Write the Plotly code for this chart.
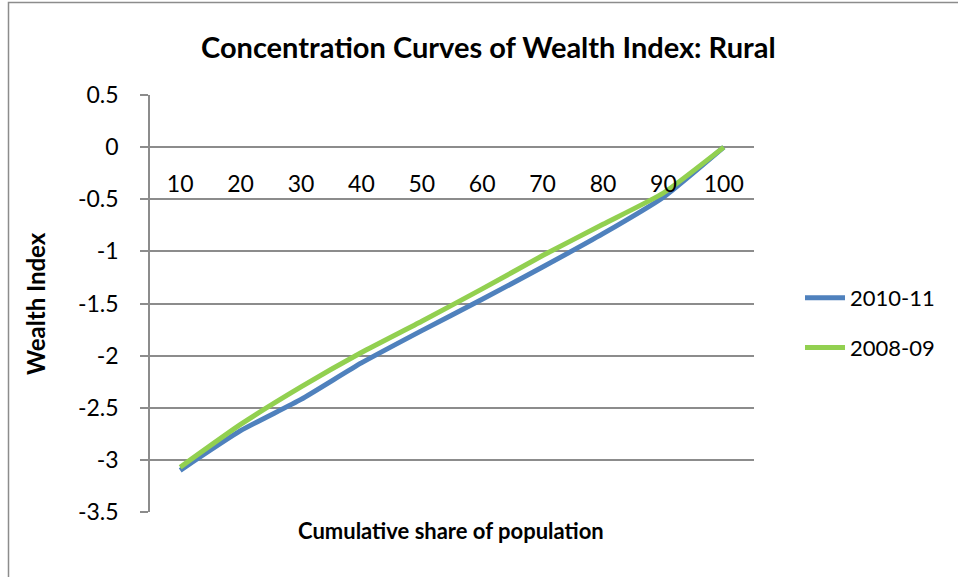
import plotly.graph_objects as go

categories = ["10", "20", "30", "40", "50", "60", "70", "80", "90", "100"]
wealth_2010_11 = [-3.10, -2.72, -2.42, -2.07, -1.76, -1.46, -1.15, -0.83, -0.48, 0.0]
wealth_2008_09 = [-3.07, -2.66, -2.30, -1.97, -1.67, -1.36, -1.04, -0.74, -0.44, 0.0]
y_ticks = [0.5, 0, -0.5, -1, -1.5, -2, -2.5, -3, -3.5]
y_tick_labels = ["0.5", "0", "-0.5", "-1", "-1.5", "-2", "-2.5", "-3", "-3.5"]

W, H = 958, 577
L, R, T, B = 150, 754, 95, 512
FONT = "Lato"
GRID = "#8c8c8c"

def px_x(p):
    return (p - L) / (R - L)

def px_y(p):
    return (B - p) / (B - T)

fig = go.Figure()
fig.add_trace(go.Scatter(
    x=categories, y=wealth_2010_11, name="2010-11", mode="lines",
    line=dict(color="#4F81BD", width=5, shape="spline", smoothing=0.5),
    legendgroup="a"))
fig.add_trace(go.Scatter(
    x=categories, y=wealth_2008_09, name="2008-09", mode="lines",
    line=dict(color="#92D050", width=5, shape="spline", smoothing=0.5),
    legendgroup="b"))

fig.update_layout(
    width=W, height=H,
    margin=dict(l=L, r=W - R, t=T, b=H - B, pad=0),
    paper_bgcolor="white", plot_bgcolor="white",
    font=dict(family=FONT, size=22, color="black"),
    showlegend=True,
    legend=dict(x=px_x(800), y=px_y(277), xanchor="left", yanchor="top",
                font=dict(family=FONT, size=22), tracegroupgap=18,
                traceorder="grouped", bgcolor="rgba(0,0,0,0)", itemwidth=40),
    xaxis=dict(type="category", categoryorder="array", categoryarray=categories,
               range=[-0.5, 9.5], anchor="free", position=px_y(147),
               showgrid=False, showline=False, zeroline=False, ticks="",
               ticklabelstandoff=21, tickfont=dict(family=FONT, size=23)),
    yaxis=dict(range=[-3.5, 0.5], tickvals=y_ticks, ticktext=y_tick_labels,
               showgrid=True, gridcolor=GRID, gridwidth=1.5,
               zeroline=False, showline=True, linecolor=GRID, linewidth=1.5,
               ticks="outside", ticklen=8, tickcolor=GRID, tickwidth=1.5,
               ticklabelstandoff=17, tickfont=dict(family=FONT, size=23)),
    annotations=[
        dict(text="<b>Concentration Curves of Wealth Index: Rural</b>",
             xref="paper", yref="paper", x=px_x(488), y=px_y(46),
             xanchor="center", yanchor="middle", showarrow=False,
             font=dict(family=FONT, size=29)),
        dict(text="<b>Cumulative share of population</b>",
             xref="paper", yref="paper", x=px_x(451), y=px_y(530),
             xanchor="center", yanchor="middle", showarrow=False,
             font=dict(family=FONT, size=22)),
        dict(text="<b>Wealth Index</b>", textangle=-90,
             xref="paper", yref="paper", x=px_x(35), y=px_y(304),
             xanchor="center", yanchor="middle", showarrow=False,
             font=dict(family=FONT, size=24)),
    ],
    shapes=[
        dict(type="rect", xref="paper", yref="paper",
             x0=px_x(8.5), x1=px_x(975), y0=px_y(600), y1=px_y(2.5),
             line=dict(color="#8c8c8c", width=1.5), layer="above"),
    ],
)

fig.write_html(
    "out.html",
    config={"displayModeBar": False},
    post_script="document.body.style.margin='0';document.body.style.overflow='hidden';",
)
